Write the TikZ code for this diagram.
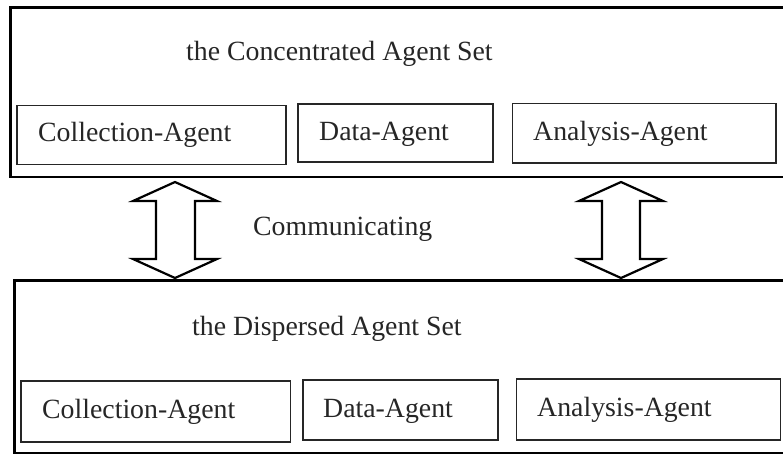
\documentclass[tikz,border=0pt]{standalone}
\usepackage{fontspec}
\setmainfont{Liberation Serif}
\definecolor{txt}{HTML}{262626}
\begin{document}
\begin{tikzpicture}[x=1pt,y=-1pt,
  bigbox/.style={draw=black,line width=2.8pt,inner sep=0pt,outer sep=0pt},
  agentbox/.style={draw=black!85,line width=1.8pt,inner sep=0pt,outer sep=0pt},
  lbl/.style={anchor=base west,inner sep=0pt,text=txt,font=\fontsize{27.8}{30}\selectfont},
  dblarrow/.style={draw=black,line width=2.2pt,line join=miter,fill=white}]
\useasboundingbox (0,0) rectangle (783,456);
\clip (0,0) rectangle (783,456);
% top group
\node[bigbox,minimum width=780pt,minimum height=169.7pt,anchor=north west] (top) at (10.7,7.3) {};
\node[agentbox,minimum width=269pt,minimum height=59pt,anchor=north west] (tcol) at (17,105.5) {};
\node[agentbox,minimum width=195.3pt,minimum height=58.3pt,anchor=north west] (tdat) at (298,104) {};
\node[agentbox,minimum width=263.5pt,minimum height=59.5pt,anchor=north west] (tana) at (512.5,103.5) {};
\node[lbl] (ttitle) at (186,60) {the Concentrated Agent Set};
\node[lbl] (tcolt) at (38,141) {Collection-Agent};
\node[lbl] (tdatt) at (319,140) {Data-Agent};
\node[lbl] (tanat) at (533,140) {Analysis-Agent};
% bottom group
\node[bigbox,minimum width=780pt,minimum height=172.3pt,anchor=north west] (bot) at (14.7,280.7) {};
\node[agentbox,minimum width=269.5pt,minimum height=60.4pt,anchor=north west] (bcol) at (21,381.3) {};
\node[agentbox,minimum width=195.3pt,minimum height=60.3pt,anchor=north west] (bdat) at (303,379.7) {};
\node[agentbox,minimum width=264pt,minimum height=60.7pt,anchor=north west] (bana) at (516.5,379) {};
\node[lbl] (btitle) at (192,335) {the Dispersed Agent Set};
\node[lbl] (bcolt) at (42,418) {Collection-Agent};
\node[lbl] (bdatt) at (323,417) {Data-Agent};
\node[lbl] (banat) at (537,416) {Analysis-Agent};
% communicating
\node[lbl] (comm) at (253,235) {Communicating};
% double arrows
\draw[dblarrow] (175,182) -- (133,201) -- (156,201) -- (156,259) -- (133,259)
  -- (175,278) -- (217,259) -- (195,259) -- (195,201) -- (217,201) -- cycle;
\draw[dblarrow] (621,182) -- (579,201) -- (602,201) -- (602,259) -- (579,259)
  -- (621,278) -- (663,259) -- (640,259) -- (640,201) -- (663,201) -- cycle;
\end{tikzpicture}
\end{document}
